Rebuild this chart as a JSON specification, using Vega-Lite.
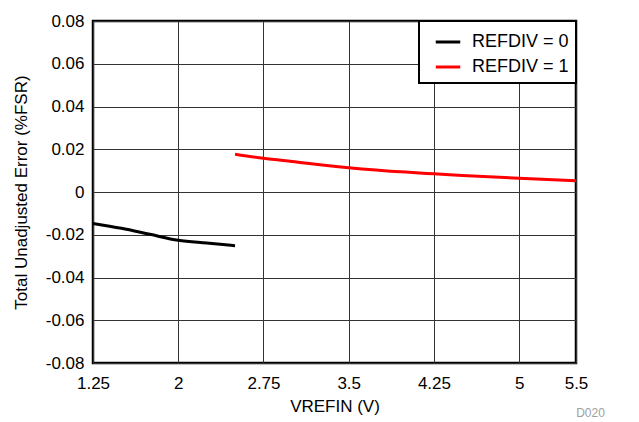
{
  "$schema": "https://vega.github.io/schema/vega-lite/v6.json",
  "autosize": {"type": "none"},
  "width": 483,
  "height": 342,
  "padding": {"left": 93, "top": 21, "right": 63, "bottom": 59},
  "background": "white",
  "title": {
    "text": "D020",
    "orient": "bottom",
    "anchor": "end",
    "dx": 17,
    "offset": -6,
    "fontSize": 12,
    "font": "Liberation Sans",
    "fontWeight": "normal",
    "color": "#a0a0a0"
  },
  "data": {
    "values": [
      {"v": 1.25, "err": -0.0147, "series": "REFDIV = 0"},
      {"v": 1.5, "err": -0.0170, "series": "REFDIV = 0"},
      {"v": 1.75, "err": -0.0198, "series": "REFDIV = 0"},
      {"v": 2.0, "err": -0.0226, "series": "REFDIV = 0"},
      {"v": 2.25, "err": -0.0239, "series": "REFDIV = 0"},
      {"v": 2.5, "err": -0.0251, "series": "REFDIV = 0"},
      {"v": 2.5, "err": 0.0177, "series": "REFDIV = 1"},
      {"v": 2.75, "err": 0.0158, "series": "REFDIV = 1"},
      {"v": 3.0, "err": 0.0143, "series": "REFDIV = 1"},
      {"v": 3.5, "err": 0.0114, "series": "REFDIV = 1"},
      {"v": 4.0, "err": 0.0093, "series": "REFDIV = 1"},
      {"v": 4.25, "err": 0.0085, "series": "REFDIV = 1"},
      {"v": 4.5, "err": 0.0077, "series": "REFDIV = 1"},
      {"v": 5.0, "err": 0.0064, "series": "REFDIV = 1"},
      {"v": 5.5, "err": 0.0053, "series": "REFDIV = 1"}
    ]
  },
  "mark": {"type": "line", "strokeWidth": 3, "interpolate": "monotone"},
  "encoding": {
    "x": {
      "field": "v",
      "type": "quantitative",
      "scale": {"domain": [1.25, 5.5], "nice": false, "zero": false},
      "axis": {
        "values": [1.25, 2, 2.75, 3.5, 4.25, 5, 5.5],
        "labelExpr": "'' + datum.value",
        "title": "VREFIN (V)",
        "labelPadding": 12,
        "titlePadding": 7
      }
    },
    "y": {
      "field": "err",
      "type": "quantitative",
      "scale": {"domain": [-0.08, 0.08], "nice": false, "zero": false},
      "axis": {
        "values": [-0.08, -0.06, -0.04, -0.02, 0, 0.02, 0.04, 0.06, 0.08],
        "labelExpr": "'' + datum.value",
        "title": "Total Unadjusted Error (%FSR)",
        "labelPadding": 9,
        "titlePadding": 15
      }
    },
    "color": {
      "field": "series",
      "type": "nominal",
      "scale": {"domain": ["REFDIV = 0", "REFDIV = 1"], "range": ["#000000", "#ff0000"]},
      "legend": {
        "title": null,
        "orient": "top-right",
        "offset": 0,
        "strokeColor": "#000000",
        "fillColor": "#ffffff",
        "padding": 7,
        "symbolType": "stroke",
        "symbolSize": 600,
        "symbolStrokeWidth": 3,
        "symbolOffset": 8,
        "labelFontSize": 18,
        "labelFont": "Liberation Sans",
        "labelColor": "#000000",
        "labelOffset": 10,
        "labelLimit": 200,
        "values": ["REFDIV = 0", "REFDIV = 1"]
      }
    }
  },
  "config": {
    "view": {"stroke": "#000000", "strokeWidth": 2.5},
    "legend": {"strokeWidth": 2},
    "axis": {
      "domain": false,
      "ticks": false,
      "grid": true,
      "gridColor": "#333333",
      "gridWidth": 1,
      "gridOpacity": 1,
      "labelFont": "Liberation Sans",
      "labelFontSize": 17,
      "labelColor": "#000000",
      "titleFont": "Liberation Sans",
      "titleFontSize": 17,
      "titleFontWeight": "normal",
      "titleColor": "#000000",
      "labelFlush": false,
      "labelOverlap": false
    }
  }
}
